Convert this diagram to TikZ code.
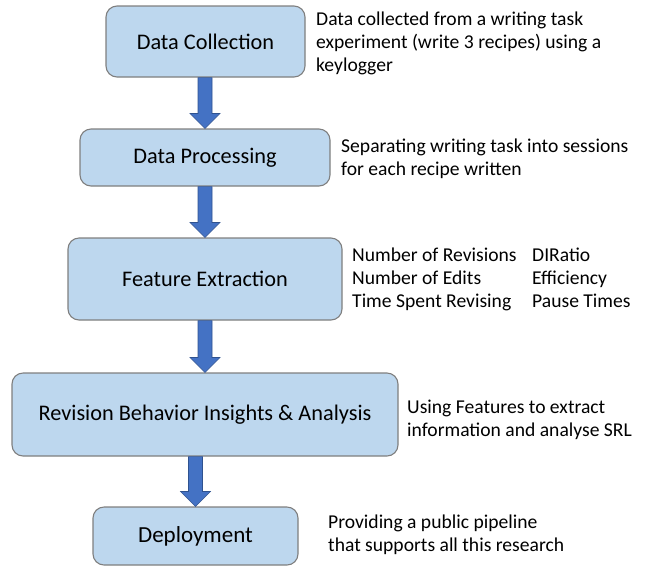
\documentclass[tikz,border=0pt]{standalone}
\usepackage{fontspec}
\setmainfont{Carlito}
\usetikzlibrary{calc}
\definecolor{boxblue}{HTML}{BDD7EE}
\definecolor{boxline}{HTML}{7F7F7F}
\definecolor{arrowblue}{HTML}{4472C4}
\definecolor{arrowline}{HTML}{2F528F}
\newcommand{\flowarrow}[2]{%
  \filldraw[fill=arrowblue, draw=arrowline, line width=0.6pt]
    ($(#1.south -| #2.north)+(-7,0)$) --
    ($(#2.north)+(-7,-15)$) --
    ($(#2.north)+(-15,-15)$) --
    (#2.north) --
    ($(#2.north)+(15,-15)$) --
    ($(#2.north)+(7,-15)$) --
    ($(#1.south -| #2.north)+(7,0)$) -- cycle;}
\begin{document}
\begin{tikzpicture}[x=1pt,y=-1pt,
  stage/.style={draw=boxline, fill=boxblue, line width=1.1pt, rounded corners=11pt,
    inner sep=0pt, font=\fontsize{22.3}{26}\selectfont},
  note/.style={anchor=north west, inner sep=0pt, align=left,
    font=\fontsize{19.6}{23}\selectfont}]
\useasboundingbox (0,0) rectangle (647,566);
\node[stage, minimum width=199pt, minimum height=71pt] (dc) at (205.5,41.5) {Data Collection};
\node[stage, minimum width=250pt, minimum height=57pt] (dp) at (205,157.5) {Data Processing};
\node[stage, minimum width=274pt, minimum height=82pt] (fe) at (205,279) {Feature Extraction};
\node[stage, minimum width=386pt, minimum height=83pt] (rb) at (205,414.5) {Revision Behavior Insights \& Analysis};
\node[stage, minimum width=205pt, minimum height=58pt, font=\fontsize{23}{27}\selectfont] (de) at (195.5,536) {Deployment};
\flowarrow{dc}{dp}
\flowarrow{dp}{fe}
\flowarrow{fe}{rb}
\flowarrow{rb}{de}
\node[note] (n1) at (316,9) {\strut Data collected from a writing task\\experiment (write 3 recipes) using a\\keylogger};
\node[note] (n2) at (341,136) {\strut Separating writing task into sessions\\for each recipe written};
\node[note] (n3a) at (352,245) {\strut Number of Revisions\\Number of Edits\\Time Spent Revising};
\node[note] (n3b) at (532,245) {\strut DIRatio\\Efficiency\\Pause Times};
\node[note] (n4) at (407,397) {\strut Using Features to extract\\information and analyse SRL};
\node[note] (n5) at (328,512) {\strut Providing a public pipeline\\that supports all this research};
\end{tikzpicture}
\end{document}
